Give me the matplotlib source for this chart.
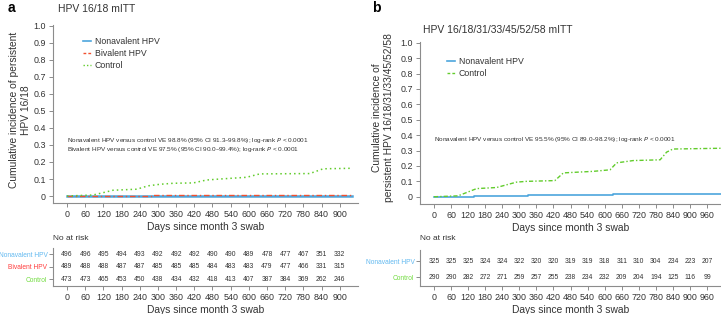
import matplotlib
matplotlib.use('Agg')
import matplotlib.pyplot as plt
from matplotlib.lines import Line2D

plt.rcParams['font.family'] = ['Liberation Sans', 'DejaVu Sans']

W, H = 721, 314

# ---- data: panel a (HPV 16/18 mITT)
a_non_days = [0, 300, 940]
a_non_inc = [0, 0.001, 0.001]
a_biv_days = [0, 280, 940]
a_biv_inc = [0, 0.004, 0.004]
a_ctl_days = [0, 86, 120, 152, 230, 268, 307, 351, 417, 460, 505, 592, 636, 801, 845, 939]
a_ctl_inc = [0, 0.006, 0.02, 0.034, 0.04, 0.06, 0.069, 0.075, 0.077, 0.094, 0.10, 0.11, 0.13, 0.132, 0.16, 0.163]

a_risk_days = list(range(0, 901, 60))
a_risk_non = [496, 496, 495, 494, 493, 492, 492, 492, 490, 490, 489, 478, 477, 467, 351, 332]
a_risk_biv = [489, 488, 488, 487, 487, 485, 485, 485, 484, 483, 483, 479, 477, 466, 331, 315]
a_risk_ctl = [473, 473, 465, 453, 450, 438, 434, 432, 418, 413, 407, 387, 384, 369, 262, 246]

# ---- data: panel b (HPV 16/18/31/33/45/52/58 mITT)
b_non_days = [0, 140, 290, 330, 630, 1010]
b_non_inc = [0, 0.003, 0.008, 0.012, 0.015, 0.015]
b_ctl_days = [0, 85, 150, 220, 290, 325, 425, 455, 560, 619, 642, 700, 795, 818, 840, 1010]
b_ctl_inc = [0, 0.006, 0.053, 0.06, 0.095, 0.1, 0.105, 0.155, 0.165, 0.175, 0.22, 0.235, 0.24, 0.29, 0.31, 0.315]

b_risk_days = list(range(0, 961, 60))
b_risk_non = [325, 325, 325, 324, 324, 322, 320, 320, 319, 319, 318, 311, 310, 304, 234, 223, 207]
b_risk_ctl = [290, 290, 282, 272, 271, 259, 257, 255, 238, 234, 232, 209, 204, 194, 125, 116, 99]

yticks = [0, 0.1, 0.2, 0.3, 0.4, 0.5, 0.6, 0.7, 0.8, 0.9, 1.0]
ytick_labels = ['0', '0.1', '0.2', '0.3', '0.4', '0.5', '0.6', '0.7', '0.8', '0.9', '1.0']

C_NON = '#4da6dd'
C_BIV = '#f2502f'
C_CTL = '#62cc2c'
L_NON = '#62b9f0'
L_BIV = '#ff3d3d'
L_CTL = '#72dc40'
SPINE = '#8c8c8c'
TXT = '#333333'

fig = plt.figure(figsize=(W / 100, H / 100), dpi=100)


def px_axes(left, top, right, bottom):
    return fig.add_axes([left / W, 1 - bottom / H, (right - left) / W, (bottom - top) / H])


def style(ax):
    for s in ['top', 'right']:
        ax.spines[s].set_visible(False)
    for s in ['left', 'bottom']:
        ax.spines[s].set_color(SPINE)
        ax.spines[s].set_linewidth(0.8)
    ax.tick_params(colors=SPINE, labelcolor=TXT, labelsize=6.4, length=3, width=0.7, pad=2)


def main_panel(ax, xticks):
    style(ax)
    ax.set_yticks(yticks)
    ax.set_yticklabels(ytick_labels)
    ax.set_xticks(xticks)
    ax.set_xlabel('Days since month 3 swab', fontsize=7.4, color=TXT, labelpad=2)


def risk_panel(ax, xlim, xticks, rows, labels, colors, days):
    style(ax)
    ax.set_xlim(*xlim)
    ax.set_xticks(xticks)
    ax.set_xlabel('Days since month 3 swab', fontsize=7.4, color=TXT, labelpad=2)
    n = len(rows)
    ax.set_yticks(list(range(n, 0, -1)))
    ax.set_yticklabels(labels, fontsize=4.8)
    ax.tick_params(axis='y', pad=1.0)
    for lab, c in zip(ax.get_yticklabels(), colors):
        lab.set_color(c)
    for i, vals in enumerate(rows):
        for d, v in zip(days, vals):
            ax.text(d, n - i, str(v), ha='center', va='center', fontsize=4.9, color=TXT)


NOTE_FS = 4.6

# ================= panel a
ax = px_axes(53, 25, 358, 203)
ax.set_xlim(-46, 960)
ax.set_ylim(-0.041, 1.005)
main_panel(ax, a_risk_days)
ax.plot(a_non_days, a_non_inc, color=C_NON, lw=1.8, drawstyle='steps-post')
ax.plot(a_biv_days, a_biv_inc, color=C_BIV, lw=1.0, ls=(0, (4, 2, 1, 2)), drawstyle='steps-post')
ax.plot(a_ctl_days, a_ctl_inc, color=C_CTL, lw=1.1, ls=(0, (1, 2)))
fig.text(58 / W, 1 - 9 / H, 'HPV 16/18 mITT', fontsize=7.5, color=TXT, va='center')
fig.text(8 / W, 1 - 8 / H, 'a', fontsize=10, fontweight='bold', va='center')
fig.text(20 / W, 1 - 110 / H, 'Cumulative incidence of persistent\nHPV 16/18', rotation=90,
         ha='center', va='center', multialignment='center', fontsize=7.4, color=TXT, linespacing=1.2)
ax.text(0, 0.30, 'Nonavalent HPV versus control VE 98.8% (95% CI 91.3\u201399.8%); log-rank $P$ < 0.0001\n'
        'Bivalent HPV versus control VE 97.5% (95% CI 90.0\u201399.4%); log-rank $P$ < 0.0001',
        fontsize=NOTE_FS, color=TXT, va='center', linespacing=1.15)
handles = [Line2D([], [], color=C_NON, lw=1.2),
           Line2D([], [], color=C_BIV, lw=1.0, ls=(0, (2, 1.5))),
           Line2D([], [], color=C_CTL, lw=1.0, ls=(0, (1, 1.5)))]
ax.legend(handles, ['Nonavalent HPV', 'Bivalent HPV', 'Control'], loc='upper left',
          bbox_to_anchor=(79 / W, 1 - 33 / H), bbox_transform=fig.transFigure, frameon=False,
          fontsize=6.3, handlelength=0.9, handletextpad=0.4, labelspacing=0.3, borderpad=0,
          labelcolor=TXT)

ta = px_axes(53, 248, 358, 286)
ta.set_ylim(0.45, 3.5)
risk_panel(ta, (-46, 960), a_risk_days, [a_risk_non, a_risk_biv, a_risk_ctl],
           ['Nonavalent HPV', 'Bivalent HPV', 'Control'], [L_NON, L_BIV, L_CTL], a_risk_days)
fig.text(53 / W, 1 - 239 / H, 'No at risk', fontsize=6, color=TXT, va='center')

# ================= panel b
bx = px_axes(420, 42, 721, 204)
bx.set_xlim(-49, 1009)
bx.set_ylim(-0.047, 1.005)
main_panel(bx, b_risk_days)
bx.plot(b_non_days, b_non_inc, color=C_NON, lw=1.2, drawstyle='steps-post')
bx.plot(b_ctl_days, b_ctl_inc, color=C_CTL, lw=1.0, ls=(0, (3, 1.5, 1, 1.5)))
fig.text(423 / W, 1 - 30 / H, 'HPV 16/18/31/33/45/52/58 mITT', fontsize=7.5, color=TXT, va='center')
fig.text(372 / W, 1 - 8 / H, 'b', fontsize=10, fontweight='bold', va='center')
fig.text(383 / W, 1 - 118 / H, 'Cumulative incidence of\npersistent HPV 16/18/31/33/45/52/58', rotation=90,
         ha='center', va='center', multialignment='center', fontsize=7.4, color=TXT, linespacing=1.2)
bx.text(0, 0.375, 'Nonavalent HPV versus control VE 95.5% (95% CI 89.0\u201398.2%); log-rank $P$ < 0.0001',
        fontsize=NOTE_FS, color=TXT, va='center')
handles_b = [Line2D([], [], color=C_NON, lw=1.2),
             Line2D([], [], color=C_CTL, lw=1.0, ls=(0, (2, 1.5)))]
bx.legend(handles_b, ['Nonavalent HPV', 'Control'], loc='upper left',
          bbox_to_anchor=(443 / W, 1 - 53 / H), bbox_transform=fig.transFigure, frameon=False,
          fontsize=6.3, handlelength=0.9, handletextpad=0.4, labelspacing=0.3, borderpad=0,
          labelcolor=TXT)

tb = px_axes(420, 250, 721, 286)
tb.set_ylim(0.44, 2.69)
risk_panel(tb, (-49, 1009), b_risk_days, [b_risk_non, b_risk_ctl],
           ['Nonavalent HPV', 'Control'], [L_NON, L_CTL], b_risk_days)
fig.text(420 / W, 1 - 239 / H, 'No at risk', fontsize=6, color=TXT, va='center')

fig.savefig('out.png', dpi=100)
